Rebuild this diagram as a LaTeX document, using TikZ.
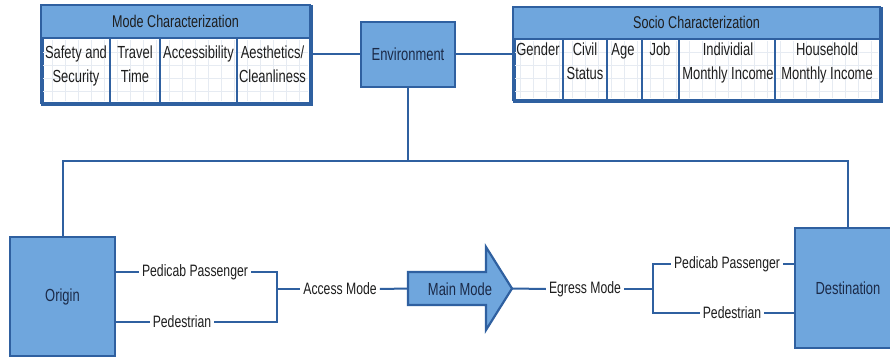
\documentclass[tikz,border=0pt]{standalone}
\usepackage{fontspec}
\setmainfont{Liberation Sans}[FakeStretch=0.74]
\definecolor{boxfill}{HTML}{6FA6DD}
\definecolor{boxline}{HTML}{2F60A0}
\definecolor{navy}{HTML}{1B2A48}
\definecolor{inkc}{HTML}{1E1E1E}
\definecolor{gridc}{HTML}{E6EBF2}
\tikzset{
  blk/.style={draw=boxline, line width=2.4pt, fill=boxfill, text=navy,
    font=\fontsize{17.5}{20}\selectfont, inner sep=0pt},
  tablebox/.style={draw=boxline, line width=2.6pt, fill=white, inner sep=0pt,
    anchor=north west},
  headbar/.style={draw=boxline, line width=2.6pt, fill=boxfill},
  sep/.style={draw=boxline, line width=2.4pt},
  headtext/.style={font=\fontsize{17}{20}\selectfont, text=inkc, inner sep=0pt},
  celltext/.style={font=\fontsize{17.5}{23.5}\selectfont, align=center,
    anchor=north, inner sep=0pt, text=inkc},
  lbl/.style={font=\fontsize{16.5}{19}\selectfont, text=inkc, inner xsep=3pt,
    inner ysep=2pt},
  link/.style={draw=boxline, line width=2pt},
  faint/.style={draw=gridc, line width=0.6pt},
}
\begin{document}
\begin{tikzpicture}[x=1pt,y=-1pt]
\useasboundingbox (0,0) rectangle (890,358);
\clip (0,0) rectangle (890,358);
\fill[white] (0,0) rectangle (890,358);

% ---------- Mode characterization table ----------
\node[tablebox, minimum width=269pt, minimum height=98pt] (mode) at (41,5) {};
\draw[faint, step=13pt] (43,40) grid (308,101);
\draw[headbar] (41,5) rectangle (310,38);
\node[headtext] (modeh) at (175.5,21.5) {Mode Characterization};
\foreach \x in {110,160,237} \draw[sep] (\x,38) -- (\x,103);
\draw[boxline, line width=2.6pt] (41,5) rectangle (310,103);
\node[celltext] (m1) at (76,46) {Safety and\\Security};
\node[celltext] (m2) at (135,46) {Travel\\Time};
\node[celltext] (m3) at (198.5,46) {Accessibility};
\node[celltext] (m4) at (272.5,46) {Aesthetics/\\Cleanliness};

% ---------- Socio characterization table ----------
\node[tablebox, minimum width=367pt, minimum height=93pt] (socio) at (513,7) {};
\draw[faint, step=13pt] (515,41) grid (878,98);
\draw[headbar] (513,7) rectangle (880,39);
\node[headtext] (socioh) at (696.5,22.5) {Socio Characterization};
\foreach \x in {563,607,642,679,775} \draw[sep] (\x,39) -- (\x,100);
\draw[boxline, line width=2.6pt] (513,7) rectangle (880,100);
\node[celltext] (s1) at (538,43) {Gender};
\node[celltext] (s2) at (585,43) {Civil\\Status};
\node[celltext] (s3) at (623,43) {Age};
\node[celltext] (s4) at (660,43) {Job};
\node[celltext] (s5) at (728,43) {Individial\\Monthly Income};
\node[celltext] (s6) at (827,43) {Household\\Monthly Income};

% ---------- Environment ----------
\node[blk, minimum width=94pt, minimum height=65pt] (env) at (408,54.5) {Environment};
\draw[link] (mode.east |- env.west) -- (env.west);
\draw[link] (env.east) -- (env.east -| socio.west);

% ---------- Origin and destination ----------
\node[blk, minimum width=105pt, minimum height=119pt] (origin) at (62.5,296.5) {Origin};
\node[blk, minimum width=106pt, minimum height=120pt] (dest) at (848,288) {Destination};

\coordinate (top) at (408,161);
\draw[link] (env.south) -- (top);
\draw[link] (origin.north) |- (top) -| (dest.north);

% ---------- Access side ----------
\node[lbl] (ppL) at (195,272) {Pedicab Passenger};
\node[lbl] (pdL) at (182,322) {Pedestrian};
\node[lbl] (access) at (340,289) {Access Mode};
\coordinate (jA) at (277,289);
\draw[link] (ppL.west -| origin.east) -- (ppL.west);
\draw[link] (pdL.west -| origin.east) -- (pdL.west);
\draw[link] (ppL.east) -| (jA) |- (pdL.east);
\draw[link] (jA) -- (access.west);

% ---------- Main mode arrow ----------
\coordinate (mainL) at (408,288.5);
\coordinate (mainR) at (512,288.5);
\draw[draw=boxline, line width=2.2pt, fill=boxfill, line join=miter]
  (408,272) -- (486,272) -- (486,247) -- (mainR) -- (486,330) -- (486,305)
  -- (408,305) -- cycle;
\node[font=\fontsize{17.5}{20}\selectfont, text=navy, inner sep=0pt] (main) at (460,289) {Main Mode};
\draw[link] (access.east) -- (mainL);

% ---------- Egress side ----------
\node[lbl] (egress) at (585,289) {Egress Mode};
\node[lbl] (ppR) at (727,264) {Pedicab Passenger};
\node[lbl] (pdR) at (732,313) {Pedestrian};
\coordinate (jE) at (653,289);
\draw[link] (mainR) -- (egress.west);
\draw[link] (egress.east) -- (jE);
\draw[link] (ppR.west) -| (jE) |- (pdR.west);
\draw[link] (ppR.east) -- (ppR.east -| dest.west);
\draw[link] (pdR.east) -- (pdR.east -| dest.west);
\end{tikzpicture}
\end{document}
